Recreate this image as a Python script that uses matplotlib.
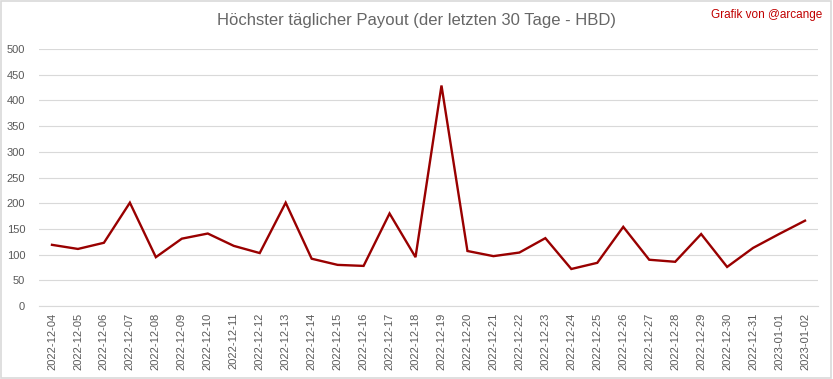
import matplotlib
matplotlib.use("Agg")
import matplotlib.pyplot as plt

# Daten
tage = ["2022-12-04", "2022-12-05", "2022-12-06", "2022-12-07", "2022-12-08",
        "2022-12-09", "2022-12-10", "2022-12-11", "2022-12-12", "2022-12-13",
        "2022-12-14", "2022-12-15", "2022-12-16", "2022-12-17", "2022-12-18",
        "2022-12-19", "2022-12-20", "2022-12-21", "2022-12-22", "2022-12-23",
        "2022-12-24", "2022-12-25", "2022-12-26", "2022-12-27", "2022-12-28",
        "2022-12-29", "2022-12-30", "2022-12-31", "2023-01-01", "2023-01-02"]
payout = [119, 111, 123, 201, 95, 131, 141, 117, 103, 201,
          92, 80, 78, 180, 95, 429, 107, 97, 104, 132,
          72, 84, 154, 90, 86, 140, 76, 113, 140, 166]
y_ticks = [0, 50, 100, 150, 200, 250, 300, 350, 400, 450, 500]

grau = "#595959"
gitter = "#d9d9d9"
linie = "#990000"

plt.rcParams["font.family"] = ["Liberation Sans", "DejaVu Sans"]

fig = plt.figure(figsize=(8.33, 3.79), dpi=100)
ax = fig.add_axes([39 / 833, 1 - 306 / 379, (818 - 39) / 833, (306 - 49) / 379])

x = list(range(len(tage)))
ax.plot(x, payout, color=linie, linewidth=1.7, solid_joinstyle="miter")

ax.set_xlim(-0.5, len(tage) - 0.5)
ax.set_ylim(0, 500)
ax.set_yticks(y_ticks)
ax.set_xticks(x)
ax.set_xticklabels(tage, rotation=90)
ax.tick_params(axis="both", length=0, labelsize=8, labelcolor=grau)
ax.tick_params(axis="y", pad=10)
ax.tick_params(axis="x", pad=5)

ax.grid(axis="y", color=gitter, linewidth=0.8)
ax.set_axisbelow(True)
for s in ["top", "right", "left"]:
    ax.spines[s].set_visible(False)
ax.spines["bottom"].set_color(gitter)
ax.spines["bottom"].set_linewidth(0.8)

fig.text(0.5, 1 - 20 / 379, "Höchster täglicher Payout (der letzten 30 Tage - HBD)",
         ha="center", va="center", fontsize=12, color="#666666")
fig.text(822 / 833, 1 - 15 / 379, "Grafik von @arcange",
         ha="right", va="center", fontsize=8.5, color="#c00000")

# Rahmen um das Diagramm
fig.patches.append(plt.Rectangle((0.001, 0.002), 0.997, 0.996, transform=fig.transFigure,
                                 fill=False, edgecolor=gitter, linewidth=1.2))

fig.savefig("out.png", dpi=100)
